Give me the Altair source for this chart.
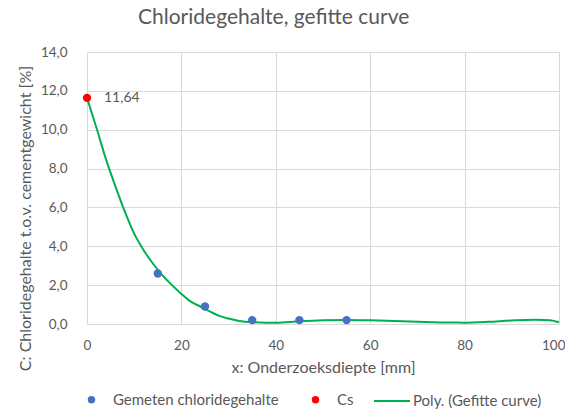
import altair as alt
import pandas as pd

# ---- data ----
meas_depth = [15, 25, 35, 45, 55]
meas_value = [2.6, 0.9, 0.2, 0.2, 0.2]

cs_depth = [0]
cs_value = [11.64]
cs_label = ["11,64"]

fit_depth = [0, 2, 4, 6, 8, 10, 12, 14, 16, 18, 20, 22, 24, 26, 28, 30, 32, 35, 38,
             40, 45, 50, 55, 60, 65, 70, 75, 80, 85, 90, 95, 98, 100]
fit_value = [11.64, 10.1, 8.5, 7.1, 5.8, 4.65, 3.8, 3.1, 2.5, 2.0, 1.55, 1.15, 0.9, 0.65,
             0.42, 0.28, 0.17, 0.09, 0.07, 0.07, 0.14, 0.19, 0.21, 0.19, 0.15, 0.11, 0.08,
             0.07, 0.11, 0.18, 0.22, 0.19, 0.09]

point_series = ["Gemeten chloridegehalte", "Cs"]
point_colors = ["#4472C4", "#FF0000"]
line_series = ["Poly. (Gefitte curve)"]
line_colors = ["#00B050"]

x_ticks = [0, 20, 40, 60, 80, 100]
y_ticks = [0, 2, 4, 6, 8, 10, 12, 14]

meas_df = pd.DataFrame({"x": meas_depth, "y": meas_value, "series": point_series[0]})
cs_df = pd.DataFrame({"x": cs_depth, "y": cs_value, "series": point_series[1], "label": cs_label})
fit_df = pd.DataFrame({"x": fit_depth, "y": fit_value, "series": line_series[0]})

FONT = "Lato"
GREY = "#595959"

pt_legend = alt.Legend(
    title=None, orient="none", legendX=-3, legendY=340, direction="horizontal",
    symbolType="circle", symbolSize=55, symbolStrokeWidth=0, symbolOpacity=1,
    labelOffset=14, columnPadding=29, labelFontSize=15, labelColor=GREY, labelFont=FONT,
    labelLimit=400,
)
ln_legend = alt.Legend(
    title=None, orient="none", legendX=286, legendY=330, direction="horizontal",
    symbolType="stroke", symbolSize=1296, symbolStrokeWidth=2, symbolOpacity=1,
    labelOffset=2, labelFontSize=15, labelColor=GREY, labelFont=FONT, labelLimit=400,
)

fill = alt.Fill("series:N", scale=alt.Scale(domain=point_series, range=point_colors), legend=pt_legend)
stroke = alt.Stroke("series:N", scale=alt.Scale(domain=line_series, range=line_colors), legend=ln_legend)

x_enc = alt.X("x:Q", scale=alt.Scale(domain=[0, 100], nice=False),
              axis=alt.Axis(values=x_ticks, tickCount=len(x_ticks), title="x: Onderzoeksdiepte [mm]",
                            labelPadding=14, titlePadding=8, labelFlush=False,
                            labelAlign=alt.condition("datum.value == 100", alt.value("right"), alt.value("center")),
                            labelOffset=alt.condition("datum.value == 100", alt.value(6), alt.value(0))))
y_enc = alt.Y("y:Q", scale=alt.Scale(domain=[0, 14], nice=False),
              axis=alt.Axis(values=y_ticks, tickCount=len(y_ticks),
                            title="C: Chloridegehalte t.o.v. cementgewicht [%]",
                            labelExpr="replace(format(datum.value, '.1f'), '.', ',')",
                            labelPadding=20, labelFlush=False, labelOverlap=False,
                            titleAngle=270, titleBaseline="middle",
                            titleX=-62, titleY=166))

line = alt.Chart(fit_df).mark_line(strokeWidth=2, interpolate="monotone").encode(
    x=x_enc, y=y_enc, stroke=stroke)
pts_meas = alt.Chart(meas_df).mark_point(filled=True, opacity=1, size=70, shape="circle").encode(
    x=x_enc, y=y_enc, fill=fill)
pts_cs = alt.Chart(cs_df).mark_point(filled=True, opacity=1, size=70, shape="circle").encode(
    x=x_enc, y=y_enc, fill=fill)
txt = alt.Chart(cs_df).mark_text(align="left", baseline="middle", dx=17, fontSize=14,
                                 font=FONT, color=GREY).encode(
    x=x_enc, y=y_enc, text="label:N")

chart = alt.layer(line, pts_meas, pts_cs, txt).properties(
    width=472, height=272,
    autosize=alt.AutoSizeParams(type="none"),
    padding={"left": 79, "top": 44, "right": 6, "bottom": 85},
    title=alt.TitleParams("Chloridegehalte, gefitte curve", anchor="start", frame="group",
                          dx=51, dy=-13, fontSize=21, font=FONT, fontWeight="normal", color=GREY),
).configure_view(strokeWidth=0).configure_axis(
    grid=True, gridColor="#d9d9d9", gridWidth=1, domain=False, ticks=False,
    labelFont=FONT, labelFontSize=13.5, labelColor=GREY,
    titleFont=FONT, titleFontSize=16, titleColor=GREY, titleFontWeight="normal",
)

chart.save("out.html", embed_options={"renderer": "svg", "actions": False})
